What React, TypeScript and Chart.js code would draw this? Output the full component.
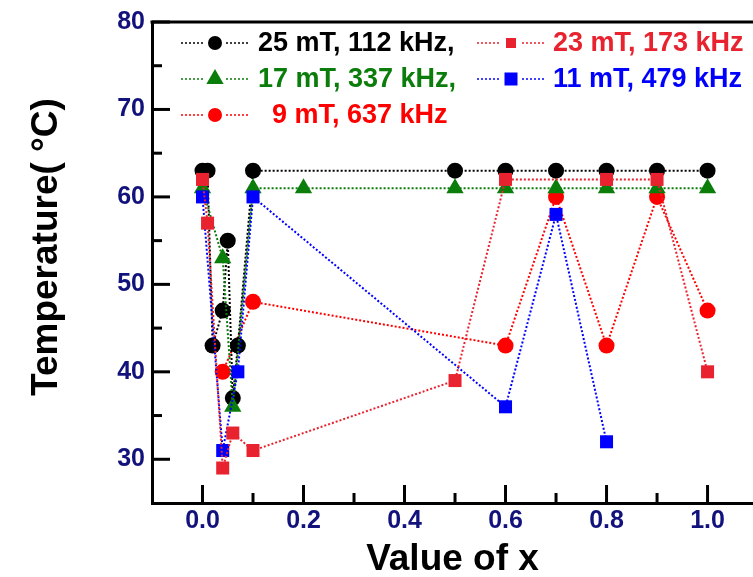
import { useEffect, useRef } from 'react';
import { Chart, registerables } from 'chart.js';

Chart.register(...registerables);

const FONT = '"Liberation Sans", Arial, Helvetica, sans-serif';
const NAVY = '#12127c';

// Temperature readings for each coil setting, against x
const x25 = [0, 0.01, 0.02, 0.04, 0.05, 0.06, 0.07, 0.1, 0.5, 0.6, 0.7, 0.8, 0.9, 1.0];
const t25 = [63, 63, 43, 47, 55, 37, 43, 63, 63, 63, 63, 63, 63, 63];

const x17 = [0, 0.04, 0.06, 0.1, 0.2, 0.5, 0.6, 0.7, 0.8, 0.9, 1.0];
const t17 = [61, 53, 36, 61, 61, 61, 61, 61, 61, 61, 61];

const x9 = [0.04, 0.1, 0.6, 0.7, 0.8, 0.9, 1.0];
const t9 = [40, 48, 43, 60, 43, 60, 47];

const x23 = [0, 0.01, 0.04, 0.06, 0.1, 0.5, 0.6, 0.8, 0.9, 1.0];
const t23 = [62, 57, 29, 33, 31, 39, 62, 62, 62, 40];

const x11 = [0, 0.04, 0.07, 0.1, 0.6, 0.7, 0.8];
const t11 = [60, 31, 40, 60, 36, 58, 32];

// Axis ticks
const xTicks = [0, 0.2, 0.4, 0.6, 0.8, 1.0];
const xMinorTicks = [0.1, 0.3, 0.5, 0.7, 0.9];
const yTicks = [30, 40, 50, 60, 70, 80];
const yMinorTicks = [35, 45, 55, 65, 75];

const xTitle = 'Value of x';
const yTitle = 'Temperature( °C)';

type Shape = 'circle' | 'triangle' | 'rect';

interface Series {
  label: string;
  xs: number[];
  ys: number[];
  color: string;
  shape: Shape;
  radius: number;
  order: number;
}

const series: Series[] = [
  { label: '25 mT, 112 kHz,', xs: x25, ys: t25, color: '#000000', shape: 'circle', radius: 8, order: 3 },
  { label: '17 mT, 337 kHz,', xs: x17, ys: t17, color: '#0b7d0b', shape: 'triangle', radius: 10, order: 2 },
  { label: '9 mT, 637 kHz', xs: x9, ys: t9, color: '#ff0000', shape: 'circle', radius: 8, order: 4 },
  { label: '23 mT, 173 kHz', xs: x23, ys: t23, color: '#e8232f', shape: 'rect', radius: 9.2, order: 0 },
  { label: '11 mT, 479 kHz', xs: x11, ys: t11, color: '#0000ff', shape: 'rect', radius: 9.2, order: 1 },
];

// legend slot for each series: marker centre x, row centre y, text x, marker size
const legendSlots = [
  { mx: 215, y: 43, tx: 258, size: 7 },
  { mx: 215, y: 79, tx: 258, size: 10 },
  { mx: 215, y: 115, tx: 272, size: 7 },
  { mx: 511, y: 43, tx: 553, size: 5 },
  { mx: 511, y: 79, tx: 553, size: 6.5 },
];

function drawMarker(ctx: CanvasRenderingContext2D, shape: Shape, x: number, y: number, size: number, color: string) {
  ctx.save();
  ctx.fillStyle = color;
  ctx.beginPath();
  if (shape === 'circle') {
    ctx.arc(x, y, size, 0, Math.PI * 2);
  } else if (shape === 'triangle') {
    const h = size * 1.5;
    const w = size * Math.sqrt(3);
    ctx.moveTo(x, y - size);
    ctx.lineTo(x + w / 2, y - size + h);
    ctx.lineTo(x - w / 2, y - size + h);
    ctx.closePath();
  } else {
    ctx.rect(x - size, y - size, size * 2, size * 2);
  }
  ctx.fill();
  ctx.restore();
}

const framePlugin = {
  id: 'frameAndLegend',
  afterDraw(chart: any) {
    const { ctx, chartArea } = chart;
    const xs = chart.scales.x;
    const ys = chart.scales.y;
    const { left, right, top, bottom } = chartArea;

    ctx.save();
    ctx.strokeStyle = '#000';
    ctx.lineWidth = 3;
    ctx.setLineDash([]);

    // top frame line
    ctx.beginPath();
    ctx.moveTo(left - 1.5, top);
    ctx.lineTo(right, top);
    ctx.stroke();

    // inward tick marks
    const tick = (x1: number, y1: number, x2: number, y2: number) => {
      ctx.beginPath();
      ctx.moveTo(x1, y1);
      ctx.lineTo(x2, y2);
      ctx.stroke();
    };
    xTicks.forEach((v) => {
      const p = xs.getPixelForValue(v);
      tick(p, bottom, p, bottom - 18);
    });
    xMinorTicks.forEach((v) => {
      const p = xs.getPixelForValue(v);
      tick(p, bottom, p, bottom - 10);
    });
    yTicks.forEach((v) => {
      const p = ys.getPixelForValue(v);
      tick(left, p, left + 18, p);
    });
    yMinorTicks.forEach((v) => {
      const p = ys.getPixelForValue(v);
      tick(left, p, left + 10, p);
    });

    // axis titles
    ctx.fillStyle = '#000';
    ctx.font = `bold 37px ${FONT}`;
    ctx.textAlign = 'center';
    ctx.textBaseline = 'alphabetic';
    ctx.fillText(xTitle, (left + right) / 2, 570);

    ctx.save();
    ctx.translate(57, 247);
    ctx.rotate(-Math.PI / 2);
    ctx.fillText(yTitle, 0, 0);
    ctx.restore();

    // legend
    ctx.font = `bold 27px ${FONT}`;
    ctx.textAlign = 'left';
    ctx.textBaseline = 'middle';
    series.forEach((s, i) => {
      const slot = legendSlots[i];
      ctx.strokeStyle = s.color;
      ctx.lineWidth = 1.5;
      ctx.setLineDash([2, 2]);
      tick(slot.mx - 34, slot.y, slot.mx - 11, slot.y);
      tick(slot.mx + 11, slot.y, slot.mx + 34, slot.y);
      ctx.setLineDash([]);
      drawMarker(ctx, s.shape, slot.mx, slot.y, slot.size, s.color);
      ctx.fillStyle = s.color;
      ctx.fillText(s.label, slot.tx, slot.y + 1);
    });

    ctx.restore();
  },
};

export default function App() {
  const canvasRef = useRef<HTMLCanvasElement | null>(null);

  useEffect(() => {
    const canvas = canvasRef.current;
    if (!canvas) return;

    const tickFont = { family: FONT, size: 25, weight: 'bold' as const };

    const chart = new Chart(canvas, {
      type: 'scatter',
      data: {
        datasets: series.map((s) => ({
          label: s.label,
          data: s.xs.map((x, i) => ({ x, y: s.ys[i] })),
          showLine: true,
          borderColor: s.color,
          backgroundColor: s.color,
          borderWidth: 2,
          borderDash: [2, 2],
          pointStyle: s.shape,
          pointRadius: s.radius,
          pointBorderWidth: 0,
          pointBackgroundColor: s.color,
          pointBorderColor: s.color,
          tension: 0,
          fill: false,
          order: s.order,
        })),
      },
      options: {
        responsive: false,
        animation: false,
        devicePixelRatio: 1,
        layout: { autoPadding: false, padding: { top: 19, right: 0, left: 0, bottom: 0 } },
        plugins: {
          legend: { display: false },
          tooltip: { enabled: false },
        },
        scales: {
          x: {
            type: 'linear',
            min: -0.1,
            max: 1.09,
            afterBuildTicks: (s: any) => {
              s.ticks = xTicks.map((value) => ({ value }));
            },
            afterFit: (s: any) => {
              s.height = 74;
            },
            grid: { display: false, drawTicks: false },
            border: { display: true, width: 3, color: '#000' },
            ticks: {
              font: tickFont,
              color: NAVY,
              padding: 3,
              maxRotation: 0,
              autoSkip: false,
              callback: (v: any) => Number(v).toFixed(1),
            },
          },
          y: {
            type: 'linear',
            min: 25,
            max: 80,
            afterBuildTicks: (s: any) => {
              s.ticks = yTicks.map((value) => ({ value }));
            },
            afterFit: (s: any) => {
              s.width = 152;
            },
            grid: { display: false, drawTicks: false },
            border: { display: true, width: 3, color: '#000' },
            ticks: {
              font: tickFont,
              color: NAVY,
              padding: 7,
              autoSkip: false,
              callback: (v: any) => String(v),
            },
          },
        },
      },
      plugins: [framePlugin],
    });

    return () => chart.destroy();
  }, []);

  return (
    <div style={{ position: 'fixed', left: 0, top: 0, width: 753, height: 577, background: '#fff' }}>
      <canvas ref={canvasRef} width={753} height={577} style={{ display: 'block' }} />
    </div>
  );
}
